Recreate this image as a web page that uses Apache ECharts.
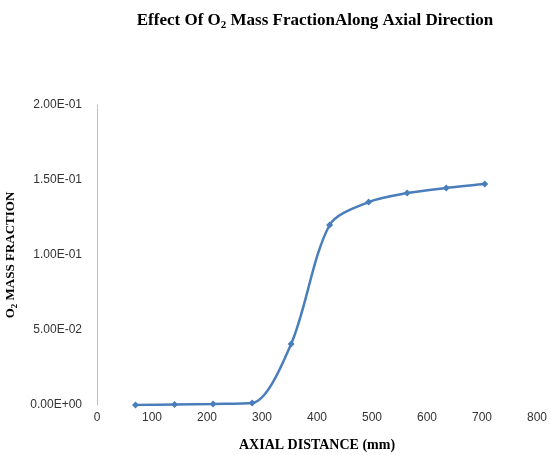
<!DOCTYPE html>
<html>
<head>
<meta charset="utf-8">
<script src="https://cdn.jsdelivr.net/npm/echarts@6/dist/echarts.min.js"></script>
<style>
  html, body { margin: 0; padding: 0; background: #fff; }
  #chart { width: 551px; height: 455px; }
</style>
</head>
<body>
<div id="chart"></div>
<script>
const axialDistance = [70, 141, 211, 282, 353, 423, 494, 564, 635, 705];
const o2Fraction = [0.0000, 0.0003, 0.0007, 0.0013, 0.0407, 0.1200, 0.1353, 0.1413, 0.1447, 0.1473];

const chart = echarts.init(document.getElementById("chart"));

const serif = "'Liberation Serif', 'Times New Roman', serif";

chart.setOption({
  backgroundColor: "#fff",
  title: {
    text: "{t|Effect Of O}{s|2}{t| Mass FractionAlong Axial Direction}",
    left: 310,
    textAlign: "center",
    top: 6,
    textStyle: {
      rich: {
        t: { fontFamily: serif, fontWeight: "bold", fontSize: 17, color: "#000" },
        s: { fontFamily: serif, fontWeight: "bold", fontSize: 11, color: "#000", padding: [9, 0, 0, 0] },
      },
    },
  },
  grid: { left: 97, right: 14, top: 105, bottom: 50, outerBoundsMode: "none", containLabel: false },
  xAxis: {
    type: "value",
    min: 0,
    max: 800,
    interval: 100,
    axisLine: { show: false },
    axisTick: { show: false },
    splitLine: { show: false },
    axisLabel: { color: "#333", fontSize: 12, fontFamily: "'Liberation Sans', Arial", margin: 7 },
    name: "AXIAL DISTANCE (mm)",
    nameLocation: "middle",
    nameGap: 33,
    nameTextStyle: { fontFamily: serif, fontWeight: "bold", fontSize: 14, color: "#000" },
  },
  yAxis: {
    type: "value",
    min: 0,
    max: 0.2,
    interval: 0.05,
    axisLine: { show: true, lineStyle: { color: "#bfbfbf", width: 1 } },
    axisTick: { show: false },
    splitLine: { show: false },
    axisLabel: {
      color: "#333",
      fontSize: 12,
      fontFamily: "'Liberation Sans', Arial",
      margin: 15,
      formatter: (v) => v.toExponential(2).toUpperCase().replace("E-", "E-0").replace("E+", "E+0"),
    },
    name: "{t|O}{s|2}{t| MASS FRACTION}",
    nameLocation: "middle",
    nameGap: 68,
    nameTextStyle: {
      rich: {
        t: { fontFamily: serif, fontWeight: "bold", fontSize: 13, color: "#000" },
        s: { fontFamily: serif, fontWeight: "bold", fontSize: 9, color: "#000", padding: [8, 0, 0, 0] },
      },
    },
  },
  series: [
    {
      type: "line",
      data: axialDistance.map((x, i) => [x, o2Fraction[i]]),
      smooth: 0.3,
      symbol: "diamond",
      symbolSize: 7,
      itemStyle: { color: "#4a7ebb" },
      lineStyle: { color: "#4a7ebb", width: 2.5 },
    },
  ],
});
</script>
</body>
</html>
